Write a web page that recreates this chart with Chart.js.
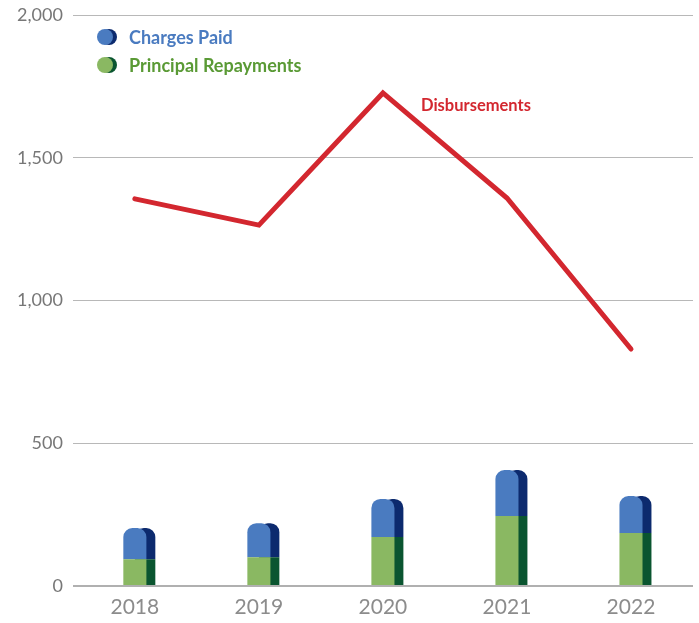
<!DOCTYPE html>
<html>
<head>
<meta charset="utf-8">
<script src="https://cdn.jsdelivr.net/npm/chart.js@4/dist/chart.umd.min.js"></script>
<style>
  html, body { margin: 0; padding: 0; background: #fff; }
  #wrap { position: relative; width: 699px; height: 623px; }
  .legend { position: absolute; left: 97px; font-family: Lato, "Open Sans", sans-serif; font-weight: 700; font-size: 18px; }
  .legend .item { display: flex; align-items: center; height: 28px; }
  .dot { position: relative; width: 20px; height: 16px; margin-right: 12px; }
  .dot span { position: absolute; top: 0; width: 16px; height: 16px; border-radius: 50%; }
  .note { position: absolute; left: 421px; top: 95px; font-family: Lato, "Open Sans", sans-serif; font-weight: 700; font-size: 16.5px; color: #d3272f; }
</style>
</head>
<body>
<div id="wrap">
  <canvas id="chart" width="699" height="623"></canvas>
  <div class="legend" style="top:23px">
    <div class="item" style="color:#4a7bc0">
      <div class="dot"><span style="left:4px;background:#0c2a6e"></span><span style="left:0;background:#4a7bc0"></span></div>Charges Paid
    </div>
    <div class="item" style="color:#5a9a35">
      <div class="dot"><span style="left:4px;background:#0a5530"></span><span style="left:0;background:#8ab862"></span></div>Principal Repayments
    </div>
  </div>
  <div class="note">Disbursements</div>
</div>
<script>
const YEARS = ['2018', '2019', '2020', '2021', '2022'];
const DISBURSEMENTS = [1356, 1264, 1727, 1359, 830];
const PRINCIPAL = [94, 101, 172, 245, 186];
const CHARGES = [109, 119, 133, 161, 129];
const Y_TICKS = [0, 500, 1000, 1500, 2000];

const topRound = { topLeft: 9, topRight: 9, bottomLeft: 0, bottomRight: 0 };
const FONT = 'Lato, "Open Sans", sans-serif';

new Chart(document.getElementById('chart'), {
  data: {
    labels: YEARS,
    datasets: [
      // line on top
      { type: 'line', label: 'Disbursements', data: DISBURSEMENTS,
        borderColor: '#d3272f', borderWidth: 5, pointRadius: 0, tension: 0,
        borderCapStyle: 'round', borderJoinStyle: 'miter', order: 0 },
      // front faces, centred on the year
      { type: 'bar', label: 'Principal Repayments', data: PRINCIPAL, stack: 'front', grouped: false,
        backgroundColor: '#8ab862', categoryPercentage: 0.186, barPercentage: 1, order: 1 },
      { type: 'bar', label: 'Charges Paid', data: CHARGES, stack: 'front', grouped: false,
        backgroundColor: '#4a7bc0', borderRadius: topRound, borderSkipped: false,
        categoryPercentage: 0.186, barPercentage: 1, order: 1 },
      // dark side faces: second slot of a two-slot group, so they sit right of centre
      { type: 'bar', label: 'pad', data: YEARS.map(() => 0), stack: 'pad',
        backgroundColor: 'rgba(0,0,0,0)', categoryPercentage: 0.33, barPercentage: 1, order: 2 },
      { type: 'bar', label: 'Principal side', data: PRINCIPAL, stack: 'side',
        backgroundColor: '#0a5530', categoryPercentage: 0.33, barPercentage: 1, order: 2 },
      { type: 'bar', label: 'Charges side', data: CHARGES, stack: 'side',
        backgroundColor: '#0c2a6e', borderRadius: topRound, borderSkipped: false,
        categoryPercentage: 0.33, barPercentage: 1, order: 2 }
    ]
  },
  options: {
    responsive: false,
    animation: false,
    layout: { autoPadding: false, padding: { top: 15, right: 6, left: 7, bottom: 0 } },
    plugins: { legend: { display: false }, tooltip: { enabled: false } },
    scales: {
      x: {
        grid: { display: false, drawTicks: false },
        border: { display: false },
        ticks: { color: '#8c8c8c', font: { family: FONT, size: 21 }, padding: 9 },
        afterFit: s => { s.height = 37; s.paddingLeft = 0; s.paddingRight = 0; }
      },
      y: {
        stacked: true,
        min: 0, max: 2000,
        afterBuildTicks: axis => { axis.ticks = Y_TICKS.map(v => ({ value: v })); },
        afterFit: s => { s.paddingTop = 0; s.paddingBottom = 0; },
        grid: {
          color: ctx => ctx.tick && ctx.tick.value === 0 ? '#b0b0b0' : '#b8b8b8',
          lineWidth: ctx => ctx.tick && ctx.tick.value === 0 ? 2 : 1,
          drawTicks: false
        },
        border: { display: false },
        ticks: {
          color: '#777', padding: 10,
          font: { family: FONT, size: 18 },
          callback: v => v.toLocaleString('en-US')
        }
      }
    }
  }
});
</script>
</body>
</html>
